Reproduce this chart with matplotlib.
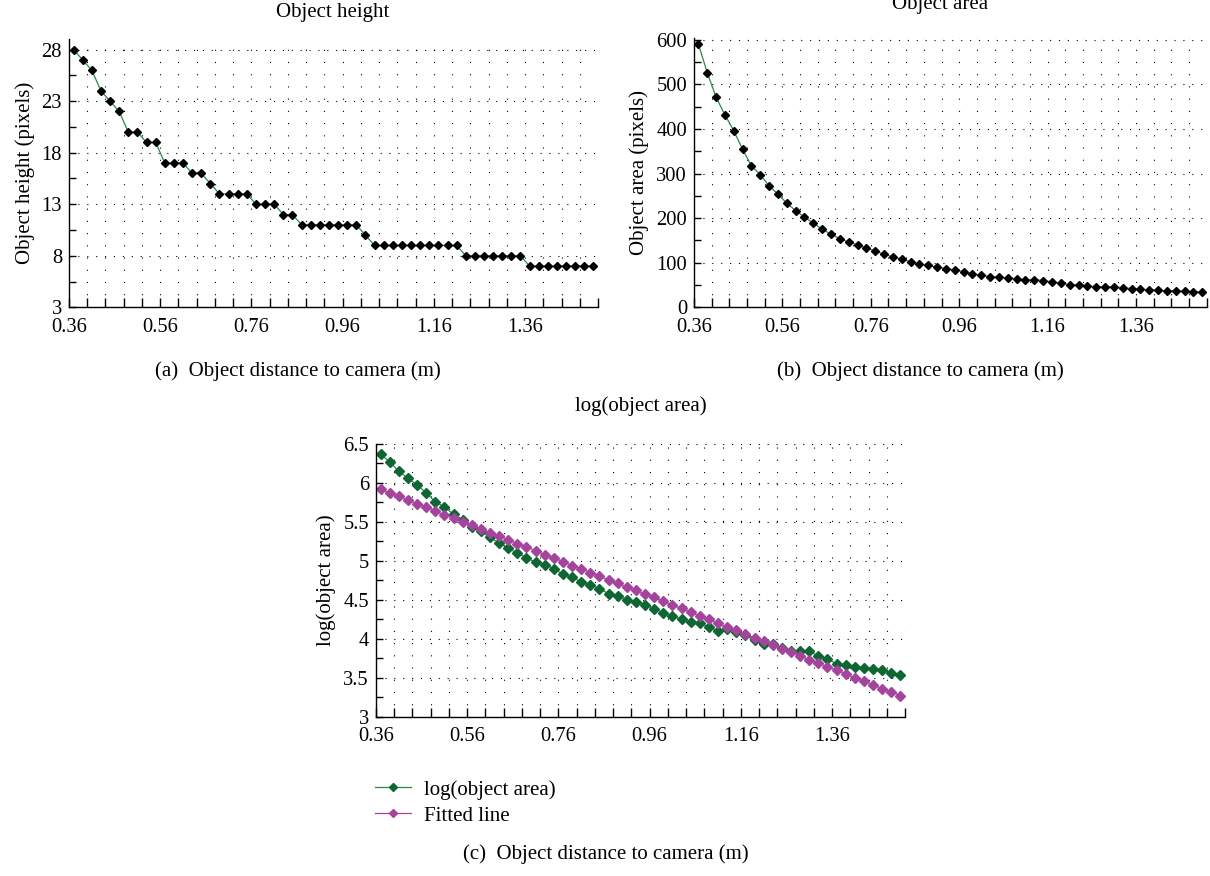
import numpy as np
import matplotlib
matplotlib.use("Agg")
import matplotlib.pyplot as plt
from matplotlib.ticker import FormatStrFormatter, FuncFormatter

plt.rcParams['font.family'] = ['Liberation Serif', 'DejaVu Serif']

# ---- data -------------------------------------------------------------
distance = [0.37, 0.39, 0.41, 0.43, 0.45, 0.47, 0.49, 0.51, 0.53, 0.55,
            0.57, 0.59, 0.61, 0.63, 0.65, 0.67, 0.69, 0.71, 0.73, 0.75,
            0.77, 0.79, 0.81, 0.83, 0.85, 0.87, 0.89, 0.91, 0.93, 0.95,
            0.97, 0.99, 1.01, 1.03, 1.05, 1.07, 1.09, 1.11, 1.13, 1.15,
            1.17, 1.19, 1.21, 1.23, 1.25, 1.27, 1.29, 1.31, 1.33, 1.35,
            1.37, 1.39, 1.41, 1.43, 1.45, 1.47, 1.49, 1.51]

object_height = [28, 27, 26, 24, 23, 22, 20, 20, 19, 19,
                 17, 17, 17, 16, 16, 15, 14, 14, 14, 14,
                 13, 13, 13, 12, 12, 11, 11, 11, 11, 11,
                 11, 11, 10, 9, 9, 9, 9, 9, 9, 9,
                 9, 9, 9, 8, 8, 8, 8, 8, 8, 8,
                 7, 7, 7, 7, 7, 7, 7, 7]

object_area = [590, 526, 471, 431, 396, 354, 317, 297, 272, 254,
               233, 217, 202, 189, 175, 164, 154, 146, 140, 133,
               126, 119, 113, 108, 102, 97, 94, 90, 87, 84,
               80, 75, 72, 69, 67, 66, 64, 61, 62, 60,
               57, 54, 51, 50, 48, 46, 46, 46, 44, 42,
               40, 39, 38, 37, 37, 36, 35, 34]

log_area = [6.37, 6.27, 6.15, 6.06, 5.98, 5.87, 5.76, 5.69, 5.60, 5.53,
            5.44, 5.38, 5.30, 5.23, 5.16, 5.10, 5.04, 4.98, 4.95, 4.90,
            4.83, 4.79, 4.73, 4.69, 4.64, 4.58, 4.55, 4.50, 4.47, 4.44,
            4.38, 4.33, 4.29, 4.25, 4.21, 4.20, 4.15, 4.10, 4.12, 4.09,
            4.05, 3.98, 3.93, 3.93, 3.88, 3.84, 3.84, 3.84, 3.78, 3.74,
            3.68, 3.66, 3.64, 3.63, 3.61, 3.60, 3.56, 3.54]

fitted_line = [5.92, 5.87, 5.83, 5.78, 5.73, 5.69, 5.64, 5.59, 5.55, 5.50,
               5.46, 5.41, 5.36, 5.32, 5.27, 5.22, 5.18, 5.13, 5.08, 5.04,
               4.99, 4.94, 4.90, 4.85, 4.80, 4.76, 4.71, 4.66, 4.62, 4.57,
               4.53, 4.48, 4.43, 4.39, 4.34, 4.29, 4.25, 4.20, 4.15, 4.11,
               4.06, 4.01, 3.97, 3.92, 3.87, 3.83, 3.78, 3.73, 3.69, 3.64,
               3.60, 3.55, 3.50, 3.46, 3.41, 3.36, 3.32, 3.27]

x_labels = [0.36, 0.56, 0.76, 0.96, 1.16, 1.36]
x_ticks = [round(0.36 + 0.04 * i, 2) for i in range(30)]

# ---- styling ----------------------------------------------------------
W, H = 1210, 876
TICK_FS = 14.8
TEXT_FS = 15
LINE_GREEN = '#2a8a48'
MARK_GREEN = '#0e6633'
MAGENTA = '#a5449c'


def style_axes(ax, yticks, yminor, ylim):
    ax.set_xlim(0.36, 1.52)
    ax.set_ylim(*ylim)
    ax.set_xticks(x_labels)
    ax.set_xticks(x_ticks, minor=True)
    ax.xaxis.set_major_formatter(FormatStrFormatter('%.2f'))
    ax.set_yticks(yticks)
    ax.set_yticks(yminor, minor=True)
    ax.yaxis.set_major_formatter(FuncFormatter(lambda v, p: '%g' % v))
    for s in ('top', 'right'):
        ax.spines[s].set_visible(False)
    for s in ('left', 'bottom'):
        ax.spines[s].set_linewidth(1.0)
    ax.tick_params(which='both', direction='in', width=1.0,
                   labelsize=TICK_FS, color='black')
    ax.tick_params(axis='x', which='both', length=6.5, pad=7.5)
    ax.tick_params(axis='y', which='both', length=4.8, pad=5)
    ax.grid(axis='x', which='both', color='black', lw=0.8,
            linestyle=(0, (1, 10)))
    ax.grid(axis='y', which='major', color='black', lw=0.8,
            linestyle=(0, (1, 7)))
    ax.set_axisbelow(True)


def put_text(x_px, baseline_px, s):
    fig.text(x_px / W, 1 - baseline_px / H, s, ha='center', va='baseline',
             fontsize=TEXT_FS)


fig = plt.figure(figsize=(W / 100, H / 100), dpi=100)

# (a) object height
axa = fig.add_axes([69 / W, 1 - 307.3 / H, (598 - 69) / W, (307.3 - 39.3) / H])
axa.plot(distance, object_height, color=LINE_GREEN, lw=0.9, marker='D',
         ms=4.2, mfc='black', mec='black', clip_on=False)
style_axes(axa, [3, 8, 13, 18, 23, 28],
           [5.5, 10.5, 15.5, 20.5, 25.5], (3, 29))
axa.set_ylabel('Object height (pixels)', fontsize=TEXT_FS, labelpad=5)

# (b) object area
axb = fig.add_axes([694 / W, 1 - 307.3 / H, (1206.7 - 694) / W, (307.3 - 37.5) / H])
axb.plot(distance, object_area, color=LINE_GREEN, lw=0.9, marker='D',
         ms=4.2, mfc='black', mec='black', clip_on=False)
style_axes(axb, [0, 100, 200, 300, 400, 500, 600],
           [50, 150, 250, 350, 450, 550], (0, 605))
axb.set_ylabel('Object area (pixels)', fontsize=TEXT_FS, labelpad=5)

# (c) log of object area with linear fit
axc = fig.add_axes([376 / W, 1 - 716.7 / H, (905 - 376) / W, (716.7 - 444) / H])
h1, = axc.plot(distance, log_area, color=LINE_GREEN, lw=0.9, marker='D',
               ms=5.0, mfc=MARK_GREEN, mec=MARK_GREEN, label='log(object area)')
h2, = axc.plot(distance, fitted_line, color=MAGENTA, lw=0.9, marker='D',
               ms=5.0, mfc=MAGENTA, mec=MAGENTA, label='Fitted line')
style_axes(axc, [3, 3.5, 4, 4.5, 5, 5.5, 6, 6.5],
           [3.25, 3.75, 4.25, 4.75, 5.25, 5.75, 6.25], (3, 6.5))
axc.set_ylabel('log(object area)', fontsize=TEXT_FS, labelpad=5)

fig.legend(handles=[h1, h2], loc='upper left',
           bbox_to_anchor=(375 / W, 1 - 780 / H), frameon=False,
           fontsize=TEXT_FS, handlelength=1.75, handletextpad=0.6,
           labelspacing=0.3, borderpad=0, borderaxespad=0,
           markerscale=0.75)

# panel titles and captions
put_text(333, 17.5, 'Object height')
put_text(940, 9, 'Object area')
put_text(641, 411, 'log(object area)')
put_text(298, 376, '(a)  Object distance to camera (m)')
put_text(920, 376, '(b)  Object distance to camera (m)')
put_text(606, 859, '(c)  Object distance to camera (m)')

fig.savefig('out.png', dpi=100)
